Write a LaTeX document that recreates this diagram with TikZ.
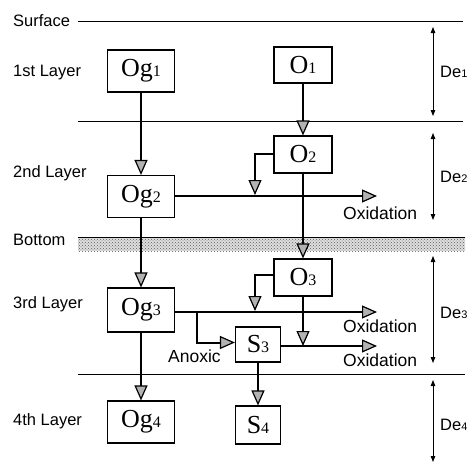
\documentclass[tikz,border=0pt]{standalone}
\usepackage{fontspec}
\setmainfont{Liberation Sans}
\newfontfamily\serifbox{Liberation Serif}
\usetikzlibrary{arrows.meta,patterns}
\newcommand\boxdig[1]{{\fontsize{16}{16}\selectfont #1}}
\newcommand\dedig[1]{{\fontsize{11}{11}\selectfont #1}}
\begin{document}
\begin{tikzpicture}[x=1pt,y=-1pt,
  box/.style={draw, line width=1.1pt, inner sep=0pt, font=\serifbox\fontsize{26}{26}\selectfont},
  ogbox/.style={box, minimum width=67pt, minimum height=42pt},
  obox/.style={box, minimum width=58pt, minimum height=36pt},
  sbox/.style={box, minimum width=45pt, minimum height=36pt},
  flow/.style={line width=2pt, -{Triangle[length=15pt,width=13pt,fill=gray!60,line width=1.2pt]}},
  dim/.style={line width=0.8pt, {Triangle[length=6pt,width=4.5pt]}-{Triangle[length=6pt,width=4.5pt]}},
  layerline/.style={line width=1pt},
  lab/.style={anchor=base west, inner sep=0pt, font=\fontsize{16.5}{16.5}\selectfont},
  inlab/.style={anchor=base west, inner sep=0pt, font=\fontsize{17.5}{17.5}\selectfont}]
\useasboundingbox (0,0) rectangle (474,463);

% bottom band
\fill[gray!25] (78,237) rectangle (465,251);
\fill[pattern=crosshatch dots, pattern color=gray!70!black] (78,237) rectangle (465,251);
\draw[line width=0.6pt] (78,237) -- (465,237);

% layer lines
\draw[layerline] (78,21) -- (463,21);
\draw[layerline] (78,121.5) -- (463,121.5);
\draw[layerline] (78,374) -- (465,374);

% layer labels
\node[lab] (surf) at (13,27) {Surface};
\node[lab] (l1) at (13,76) {1st Layer};
\node[lab] (l2) at (13,177) {2nd Layer};
\node[lab] (bot) at (13,245) {Bottom};
\node[lab] (l3) at (13,308) {3rd Layer};
\node[lab] (l4) at (13,425) {4th Layer};

% boxes
\node[ogbox] (Og1) at (141,71) {Og\boxdig{1}};
\node[ogbox] (Og2) at (141,196.5) {Og\boxdig{2}};
\node[ogbox, minimum height=44pt] (Og3) at (141,310) {Og\boxdig{3}};
\node[ogbox] (Og4) at (141,422) {Og\boxdig{4}};
\node[obox] (O1) at (303,65) {O\boxdig{1}};
\node[obox, minimum height=37pt] (O2) at (303,154.5) {O\boxdig{2}};
\node[obox, minimum height=37pt] (O3) at (303,277.5) {O\boxdig{3}};
\node[sbox, minimum height=35pt] (S3) at (258,344.5) {S\boxdig{3}};
\node[sbox, minimum height=38pt] (S4) at (258,425) {S\boxdig{4}};

% coordinates
\coordinate (ox1) at (377,196);
\coordinate (ox2) at (377,312);
\coordinate (ox3) at (377,346);
\coordinate (b2) at (255,196);
\coordinate (b3) at (255,312);
\coordinate (a3) at (197,312);

% vertical flows
\draw[flow] (Og1) -- (Og2);
\draw[flow] (Og2) -- (Og3);
\draw[flow] (Og3) -- (Og4);
\draw[flow] (O1) -- (O2);
\draw[flow] (O2) -- (O3);
\draw[flow] (S3) -- (S4);

% horizontal oxidation flows
\draw[flow] (Og2.east |- ox1) -- (ox1);
\draw[flow] (Og3.east |- ox2) -- (ox2);
\draw[flow] (S3.east |- ox3) -- (ox3);

% branches
\draw[flow, shorten >=1pt] ([yshift=1pt]O2.west) -| (b2);
\draw[flow, shorten >=1pt] ([yshift=3pt]O3.west) -| (b3);
\draw[flow] (O3.south) -- (O3.south |- ox3);
\draw[flow] (a3) |- ([yshift=2pt]S3.west);

% inner labels
\node[inlab] (t1) at (343,219) {Oxidation};
\node[inlab] (t2) at (343,332) {Oxidation};
\node[inlab] (t3) at (343,366) {Oxidation};
\node[inlab] (an) at (168,362) {Anoxic};

% dimension arrows
\coordinate (d1a) at (433,27);  \coordinate (d1b) at (433,116);
\coordinate (d2a) at (433,133); \coordinate (d2b) at (433,220);
\coordinate (d3a) at (433,256); \coordinate (d3b) at (433,363);
\coordinate (d4a) at (433,380); \coordinate (d4b) at (433,462);
\draw[dim] (d1a) -- (d1b);
\draw[dim] (d2a) -- (d2b);
\draw[dim] (d3a) -- (d3b);
\draw[dim] (d4a) -- (d4b);
\node[lab] (De1) at (440,77) {De\dedig{1}};
\node[lab] (De2) at (440,182) {De\dedig{2}};
\node[lab] (De3) at (440,318) {De\dedig{3}};
\node[lab] (De4) at (440,430) {De\dedig{4}};
\end{tikzpicture}
\end{document}
